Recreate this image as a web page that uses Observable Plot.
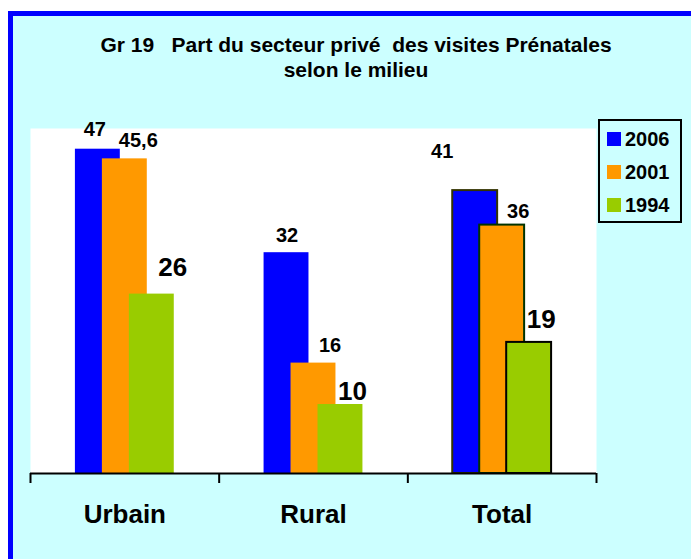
<!DOCTYPE html>
<html>
<head>
<meta charset="utf-8">
<script src="https://cdn.jsdelivr.net/npm/d3@7"></script>
<script src="https://cdn.jsdelivr.net/npm/@observablehq/plot@0.6"></script>
<style>
  body { margin: 0; background: #ffffff; font-family: "Liberation Sans", Arial, sans-serif; }
  #wrap { position: relative; width: 691px; height: 559px; overflow: hidden; background: #ffffff; }
  #panel { position: absolute; left: 8px; top: 11px; width: 720px; height: 620px; background: #ccffff;
           border-left: 5px solid #0000ff; border-top: 5px solid #0000ff; }
  #chart { position: absolute; left: 0; top: 0; }
  #title { position: absolute; left: 0; top: 32px; width: 712px; text-align: center; font-weight: bold;
           font-size: 21px; line-height: 25px; color: #000; white-space: pre; }
  #legend { position: absolute; left: 598px; top: 119px; width: 80px; height: 98px; border: 2px solid #000;
            padding-top: 1.5px; box-sizing: content-box; }
  .row { font-size: 20px; font-weight: bold; line-height: 33px; height: 33px; padding-left: 7px; white-space: nowrap; color: #000; }
  .sw { display: inline-block; width: 14px; height: 14px; margin-right: 4px; vertical-align: baseline; }
</style>
</head>
<body>
<div id="wrap">
  <div id="panel"></div>
  <div id="chart"></div>
  <div id="title">Gr 19   Part du secteur privé  des visites Prénatales
selon le milieu</div>
  <div id="legend"></div>
</div>
<script>
// ---- data ----
const categories = ["Urbain", "Rural", "Total"];
const years = ["2006", "2001", "1994"];
const values2006 = [47, 32, 41];
const values2001 = [45.6, 16, 36];
const values1994 = [26, 10, 19];

// ---- styling ----
const colors = {"2006": "#0000ff", "2001": "#ff9900", "1994": "#99cc00"};
const totalOutline = {"2006": "#333300", "2001": "#003300", "1994": "#000000"};
const labelSize = {"2006": 20, "2001": 20, "1994": 26};
// label nudges (dx, distance of baseline above bar top) per category|year
const nudges = {
  "Urbain|2006": [-3, 13], "Urbain|2001": [13.5, 12], "Urbain|1994": [21, 18],
  "Rural|2006": [0.5, 11], "Rural|2001": [16.5, 11], "Rural|1994": [12, 5],
  "Total|2006": [-33, 33], "Total|2001": [16, 7], "Total|1994": [12, 14]
};

const seriesValues = {"2006": values2006, "2001": values2001, "1994": values1994};
const rows = [];
years.forEach((yr, k) => {
  categories.forEach((cat, i) => {
    rows.push({cat, i, year: yr, k, value: seriesValues[yr][i]});
  });
});

const offset = 0.143;   // in category units
const halfW = 0.119;
const center = d => d.i + 0.5 + (d.k - 1) * offset;
const fmt = v => String(v).replace(".", ",");

const marks = [Plot.frame({fill: "white", stroke: "none"})];
years.forEach(yr => {
  const sub = rows.filter(d => d.year === yr);
  marks.push(Plot.rectY(sub.filter(d => d.cat !== "Total"), {
    x1: d => center(d) - halfW, x2: d => center(d) + halfW, y1: 0, y2: "value",
    fill: colors[yr]
  }));
  marks.push(Plot.rectY(sub.filter(d => d.cat === "Total"), {
    x1: d => center(d) - halfW, x2: d => center(d) + halfW, y1: 0, y2: "value",
    fill: colors[yr], stroke: totalOutline[yr], strokeWidth: 2
  }));
});
rows.forEach(d => {
  const [dx, up] = nudges[d.cat + "|" + d.year];
  marks.push(Plot.text([d], {
    x: center, y: "value", text: r => fmt(r.value),
    dx, dy: -up, fontSize: labelSize[d.year], fontWeight: "bold",
    fill: "#000", textAnchor: "middle", lineAnchor: "bottom"
  }));
});
marks.push(Plot.ruleY([0], {stroke: "#000", strokeWidth: 2}));
marks.push(Plot.axisX([0, 1, 2, 3], {tickSize: 10, tickFormat: () => "", stroke: "#000", strokeWidth: 2}));
marks.push(Plot.axisX([0.5, 1.5, 2.5], {
  tickSize: 0, tickPadding: 31.5, tickFormat: v => categories[Math.floor(v)],
  fontSize: 26, fontWeight: "bold", fill: "#000"
}));

const chart = Plot.plot({
  width: 691, height: 559,
  marginTop: 128, marginBottom: 86, marginLeft: 30, marginRight: 95,
  style: {background: "transparent", fontFamily: "Liberation Sans, Arial, sans-serif", overflow: "visible"},
  x: {domain: [0, 3]},
  y: {domain: [0, 50], axis: null},
  marks
});
document.getElementById("chart").appendChild(chart);

// legend built from the years and colours
const legend = document.getElementById("legend");
years.forEach(yr => {
  const row = document.createElement("div");
  row.className = "row";
  const sw = document.createElement("span");
  sw.className = "sw";
  sw.style.background = colors[yr];
  row.appendChild(sw);
  row.appendChild(document.createTextNode(yr));
  legend.appendChild(row);
});
</script>
</body>
</html>
